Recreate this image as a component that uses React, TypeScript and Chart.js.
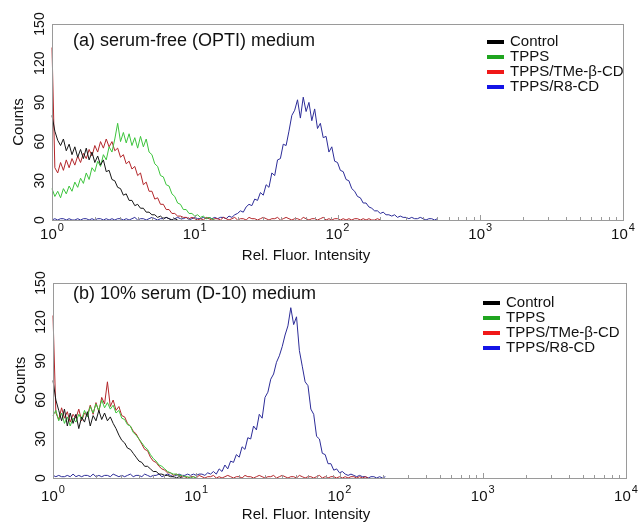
import React, { useEffect, useRef } from "react";
import { Chart, registerables } from "chart.js";

Chart.register(...registerables);

const FONT = '"Liberation Sans", Arial, Helvetica, sans-serif';
const CHANNELS_PER_DECADE = 50;
const SERIES_NAMES = ["Control", "TPPS", "TPPS/TMe-β-CD", "TPPS/R8-CD"];
const LINE_COLORS = ["#151515", "#3cc43c", "#b3262a", "#2c2c98"];
const LEGEND_COLORS = ["#000000", "#1fa51f", "#f01818", "#1414e6"];
const Y_TICKS = [0, 30, 60, 90, 120, 150];
const X_DECADES = [0, 1, 2, 3, 4];
const X_TITLE = "Rel. Fluor. Intensity";
const Y_TITLE = "Counts";
const PANEL_A_TITLE = "(a) serum-free (OPTI) medium";
const PANEL_B_TITLE = "(b) 10% serum (D-10) medium";

// Panel (a): counts per channel (channel i sits at 10^(i/50))
const A_CONTROL = [80, 68, 61, 57, 62, 53, 58, 50, 56, 48, 54, 47, 55, 46, 52, 44, 49, 42, 46, 37, 38, 31, 30, 25, 24, 19, 20, 15, 15, 11, 12, 9, 9, 6, 6, 4, 4, 2, 3, 1, 2, 1, 0, 1, 0];
const A_TPPS = [24, 18, 22, 17, 24, 20, 26, 22, 29, 25, 32, 28, 36, 31, 40, 37, 45, 41, 50, 46, 56, 52, 62, 74, 60, 67, 59, 66, 57, 63, 55, 64, 56, 62, 52, 50, 43, 41, 34, 33, 27, 26, 20, 18, 13, 12, 8, 8, 5, 5, 3, 4, 2, 3, 1, 2, 1, 0];
const A_TME = [132, 40, 36, 44, 38, 46, 40, 47, 42, 49, 44, 51, 47, 54, 49, 57, 52, 60, 55, 62, 56, 60, 53, 55, 48, 50, 43, 45, 39, 41, 34, 36, 27, 29, 22, 22, 16, 17, 12, 12, 8, 8, 5, 5, 3, 3, 2, 2, 1, 2, 1,
  0, 1, 0, 2, 1, 0, 1, 1, 0, 2, 1, 0, 1, 2, 0, 1, 1, 0, 2, 1, 1, 0, 1, 2, 1, 0, 1, 1, 2, 0, 1, 2, 1, 0, 1, 1, 0, 2, 1, 0, 1, 1, 0, 1, 2, 0, 1, 0, 1, 1, 0, 1, 0, 1, 0, 1, 1, 0, 1, 0, 1, 0, 0, 1, 0];
const A_R8 = [0, 1, 0, 1, 1, 0, 1, 0, 0, 1, 0, 1, 1, 0, 1, 0, 1, 1, 0, 1, 0, 1, 0, 1, 1, 0, 1, 0, 1, 2, 0, 1, 1, 0, 1, 2, 1, 0, 1, 1, 2, 1, 0, 1, 2, 1, 1, 2, 0, 1, 2, 1, 1, 2, 1, 2, 1, 2, 1, 2,
  2, 1, 3, 2, 4, 5, 7, 6, 10, 12, 11, 16, 15, 21, 19, 27, 25, 36, 34, 46, 47, 58, 57, 68, 80, 84, 92, 78, 94, 83, 90, 76, 85, 70, 74, 63, 64, 52, 56, 45, 44, 38, 37, 31, 30, 24, 22, 18, 17, 13, 13, 10, 9, 7, 7, 5, 6, 4, 4, 3, 4, 2, 3, 2, 2, 1, 2, 1, 1, 2, 1, 0, 1, 1, 0, 1];

// Panel (b)
const B_CONTROL = [75, 60, 52, 44, 53, 40, 50, 42, 49, 38, 47, 43, 51, 40, 48, 44, 52, 45, 50, 44, 47, 42, 38, 33, 29, 27, 23, 22, 19, 16, 13, 12, 9, 9, 7, 5, 5, 3, 3, 2, 2, 1, 1, 0, 1, 0];
const B_TPPS = [48, 52, 44, 50, 42, 47, 40, 46, 43, 49, 45, 52, 47, 55, 50, 57, 52, 60, 54, 58, 53, 56, 50, 52, 46, 45, 41, 40, 35, 33, 30, 27, 24, 22, 18, 15, 13, 10, 9, 7, 5, 4, 3, 3, 2, 2, 1, 1, 0, 1, 0];
const B_TME = [125, 50, 45, 54, 46, 51, 43, 49, 46, 53, 44, 50, 48, 56, 49, 58, 51, 62, 57, 74, 55, 60, 52, 55, 48, 47, 42, 40, 36, 34, 30, 26, 22, 21, 16, 13, 12, 9, 7, 6, 4, 4, 2, 3, 2, 1, 1, 0, 1,
  1, 0, 2, 1, 0, 1, 1, 2, 0, 1, 0, 1, 2, 1, 0, 1, 1, 0, 2, 1, 1, 0, 1, 2, 1, 0, 1, 1, 2, 0, 1, 2, 1, 0, 1, 1, 0, 2, 1, 0, 1, 1, 0, 1, 2, 0, 1, 0, 1, 1, 0, 1, 0, 1, 0, 1, 1, 0, 1, 0, 1, 0];
const B_R8 = [2, 1, 2, 1, 1, 2, 1, 3, 1, 2, 1, 2, 2, 1, 3, 1, 2, 1, 2, 2, 1, 3, 2, 1, 2, 1, 2, 3, 1, 2, 2, 1, 3, 2, 1, 2, 2, 3, 1, 2, 3, 2, 1, 2, 3, 2, 2, 3, 2, 3, 2, 3, 3, 2, 4, 3,
  5, 3, 7, 5, 10, 7, 13, 12, 18, 16, 24, 22, 31, 30, 40, 37, 49, 46, 62, 66, 76, 80, 89, 94, 101, 110, 117, 131, 118, 124, 98, 86, 74, 71, 53, 49, 32, 30, 19, 18, 11, 11, 6, 7, 4, 5, 3, 2, 3, 2, 1, 2, 1, 1, 0, 1, 1, 0, 1, 0, 1];

const toPoints = (values: number[]) =>
  values.map((y, i) => ({ x: Math.pow(10, i / CHANNELS_PER_DECADE), y }));

const decorPlugin = {
  id: "decor",
  afterDatasetsDraw(chart: any, _args: any, o: any) {
    const { ctx, chartArea: a, scales } = chart;
    const xs = scales.x;
    const ys = scales.y;
    ctx.save();
    // frame
    ctx.strokeStyle = "#9a9a9a";
    ctx.lineWidth = 1;
    ctx.strokeRect(a.left + 0.5, a.top + 0.5, a.right - a.left, a.bottom - a.top);
    // x ticks (inward)
    for (let d = 0; d < 4; d++) {
      for (let m = 1; m <= 9; m++) {
        const px = Math.round(xs.getPixelForValue(m * Math.pow(10, d))) + 0.5;
        const len = m === 1 ? 5 : 3;
        ctx.beginPath();
        ctx.moveTo(px, a.bottom);
        ctx.lineTo(px, a.bottom - len);
        ctx.stroke();
      }
    }
    ctx.fillStyle = "#111";
    // x tick labels 10^n
    X_DECADES.forEach((d) => {
      const px = xs.getPixelForValue(Math.pow(10, d));
      ctx.font = `15px ${FONT}`;
      const w1 = ctx.measureText("10").width;
      ctx.font = `11px ${FONT}`;
      const w2 = ctx.measureText(String(d)).width;
      const x0 = px - (w1 + w2 + 1) / 2;
      const base = a.bottom + o.xLabelOffset;
      ctx.textAlign = "left";
      ctx.textBaseline = "alphabetic";
      ctx.font = `15px ${FONT}`;
      ctx.fillText("10", x0, base);
      ctx.font = `11px ${FONT}`;
      ctx.fillText(String(d), x0 + w1 + 1, base - 8);
    });
    // y tick labels (rotated)
    ctx.font = `14px ${FONT}`;
    ctx.textAlign = "center";
    ctx.textBaseline = "middle";
    Y_TICKS.forEach((v) => {
      const py = ys.getPixelForValue(v);
      ctx.save();
      ctx.translate(a.left - 11.5, py);
      ctx.rotate(-Math.PI / 2);
      ctx.fillText(String(v), 0, 0);
      ctx.restore();
    });
    // axis titles
    ctx.font = `15px ${FONT}`;
    ctx.save();
    ctx.translate(o.yTitleX, (a.top + a.bottom) / 2);
    ctx.rotate(-Math.PI / 2);
    ctx.fillText(Y_TITLE, 0, 0);
    ctx.restore();
    ctx.fillText(X_TITLE, 306, o.xTitleY);
    // panel title
    ctx.font = `18px ${FONT}`;
    ctx.textAlign = "left";
    ctx.fillText(o.title, 73, o.titleY);
    // legend
    ctx.font = `15px ${FONT}`;
    chart.data.datasets.forEach((ds: any, i: number) => {
      const y = o.legendY + i * 15;
      ctx.strokeStyle = LEGEND_COLORS[i];
      ctx.lineWidth = 4;
      ctx.beginPath();
      ctx.moveTo(o.legendX, y);
      ctx.lineTo(o.legendX + 17, y);
      ctx.stroke();
      ctx.fillStyle = "#111";
      ctx.fillText(ds.label, o.legendX + 23, y);
    });
    ctx.restore();
  },
};

type PanelProps = {
  top: number;
  height: number;
  series: number[][];
  left: number;
  right: number;
  padTop: number;
  axisH: number;
  decor: any;
};

function Panel({ top, height, series, left, right, padTop, axisH, decor }: PanelProps) {
  const ref = useRef<HTMLCanvasElement | null>(null);
  useEffect(() => {
    if (!ref.current) return;
    const chart = new Chart(ref.current, {
      type: "line",
      data: {
        datasets: series.map((vals, i) => ({
          label: SERIES_NAMES[i],
          data: toPoints(vals),
          borderColor: LINE_COLORS[i],
          borderWidth: 1,
          pointRadius: 0,
          tension: 0,
          fill: false,
          clip: 3,
        })),
      },
      options: {
        animation: false,
        responsive: false,
        events: [],
        layout: { padding: { left: 0, right: 639 - right, top: padTop, bottom: 0 } },
        scales: {
          x: {
            type: "logarithmic",
            min: 1,
            max: 10000,
            ticks: { display: false },
            grid: { display: false },
            border: { display: false },
            afterFit: (s: any) => {
              s.height = axisH;
            },
          },
          y: {
            type: "linear",
            min: 0,
            max: 150,
            ticks: { display: false },
            grid: { display: false },
            border: { display: false },
            afterFit: (s: any) => {
              s.width = left;
            },
          },
        },
        plugins: {
          legend: { display: false },
          tooltip: { enabled: false },
          decor,
        } as any,
      },
      plugins: [decorPlugin],
    });
    return () => chart.destroy();
  }, []);
  return (
    <canvas
      ref={ref}
      width={639}
      height={height}
      style={{ position: "absolute", left: 0, top, width: 639, height }}
    />
  );
}

export default function App() {
  return (
    <div style={{ position: "fixed", left: 0, top: 0, width: 639, height: 523, background: "#fff" }}>
      <Panel
        top={0}
        height={266}
        series={[A_CONTROL, A_TPPS, A_TME, A_R8]}
        left={52}
        right={623}
        padTop={24}
        axisH={46}
        decor={{ title: PANEL_A_TITLE, titleY: 41, legendX: 487, legendY: 42, xLabelOffset: 19, xTitleY: 256, yTitleX: 19 }}
      />
      <Panel
        top={266}
        height={257}
        series={[B_CONTROL, B_TPPS, B_TME, B_R8]}
        left={53}
        right={626}
        padTop={17}
        axisH={45}
        decor={{ title: PANEL_B_TITLE, titleY: 28, legendX: 483, legendY: 37, xLabelOffset: 23, xTitleY: 249, yTitleX: 21 }}
      />
    </div>
  );
}
